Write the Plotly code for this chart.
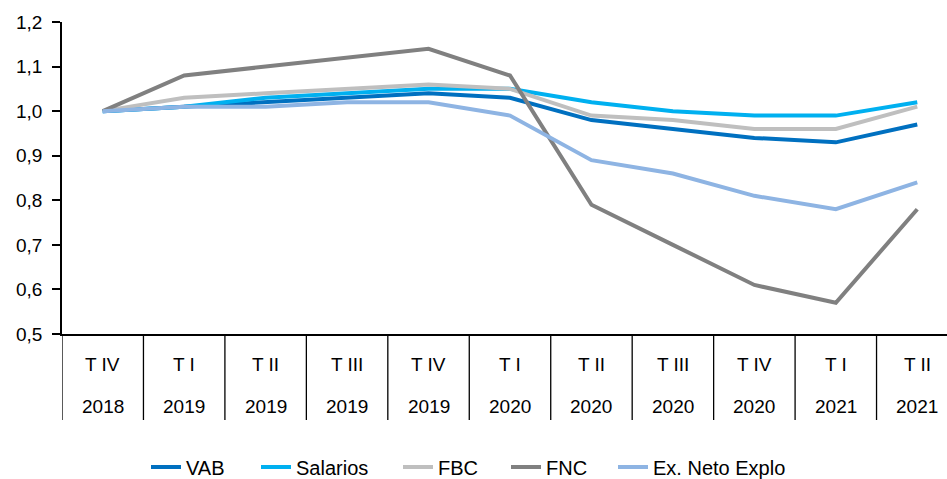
import plotly.graph_objects as go

quarters = ["T IV", "T I", "T II", "T III", "T IV", "T I", "T II", "T III", "T IV", "T I", "T II"]
years = ["2018", "2019", "2019", "2019", "2019", "2020", "2020", "2020", "2020", "2021", "2021"]

vab = [1.00, 1.01, 1.02, 1.03, 1.04, 1.03, 0.98, 0.96, 0.94, 0.93, 0.97]
salarios = [1.00, 1.01, 1.03, 1.04, 1.05, 1.05, 1.02, 1.00, 0.99, 0.99, 1.02]
fbc = [1.00, 1.03, 1.04, 1.05, 1.06, 1.05, 0.99, 0.98, 0.96, 0.96, 1.01]
fnc = [1.00, 1.08, 1.10, 1.12, 1.14, 1.08, 0.79, 0.70, 0.61, 0.57, 0.78]
ex_neto = [1.00, 1.01, 1.01, 1.02, 1.02, 0.99, 0.89, 0.86, 0.81, 0.78, 0.84]

series = [
    ("VAB", vab, "#0070C0"),
    ("Salarios", salarios, "#00B0F0"),
    ("FBC", fbc, "#BFBFBF"),
    ("FNC", fnc, "#808080"),
    ("Ex. Neto Explo", ex_neto, "#8EB4E3"),
]
# left edge (px) of each legend entry
legend_left = [146, 256, 398, 506, 613]

FONT = "Liberation Sans, Arial, sans-serif"
idx = list(range(len(quarters)))

W, H = 947, 479
ml, mt, mb = 62, 22, 145
plot_h = H - mt - mb

fig = go.Figure()
legend_layouts = {}
for k, (name, vals, color) in enumerate(series):
    lg = "legend" if k == 0 else f"legend{k + 1}"
    fig.add_trace(go.Scatter(x=idx, y=vals, mode="lines", name=name, legend=lg,
                             line=dict(color=color, width=4)))
    legend_layouts[lg] = dict(orientation="h", xref="container", yref="container",
                              x=legend_left[k] / W, xanchor="left",
                              y=(H - 467) / H, yanchor="middle",
                              font=dict(family=FONT, size=20, color="#000"),
                              bgcolor="rgba(0,0,0,0)")

annotations = []
for i, (q, yr) in enumerate(zip(quarters, years)):
    annotations.append(dict(x=i, xref="x", y=-30 / plot_h, yref="paper", text=q,
                            showarrow=False, yanchor="middle", xanchor="center",
                            font=dict(family=FONT, size=19, color="#000")))
    annotations.append(dict(x=i, xref="x", y=-72 / plot_h, yref="paper", text=yr,
                            showarrow=False, yanchor="middle", xanchor="center",
                            font=dict(family=FONT, size=19, color="#000")))

shapes = []
for i in idx:
    shapes.append(dict(type="line", xref="x", yref="paper", x0=i - 0.5, x1=i - 0.5,
                       y0=0, y1=-86 / plot_h, line=dict(color="#000", width=1.3)))

fig.update_layout(
    width=W, height=H,
    margin=dict(l=ml, r=0, t=mt, b=mb, pad=0, autoexpand=False),
    paper_bgcolor="white", plot_bgcolor="white",
    separators=",.",
    font=dict(family=FONT, size=19, color="#000"),
    xaxis=dict(range=[-0.5, 10.365], showgrid=False, zeroline=False,
               showticklabels=False, ticks="", showline=True,
               linecolor="#000", linewidth=1.5),
    yaxis=dict(range=[0.5, 1.2], dtick=0.1, tickformat=".1f", showgrid=False,
               zeroline=False, showline=True, linecolor="#000", linewidth=1.5,
               ticks="outside", ticklen=8, tickcolor="#000", tickwidth=1.5,
               ticklabelstandoff=6,
               tickfont=dict(family=FONT, size=19, color="#000")),
    showlegend=True,
    annotations=annotations,
    shapes=shapes,
    **legend_layouts,
)

fig.write_html("out.html")
